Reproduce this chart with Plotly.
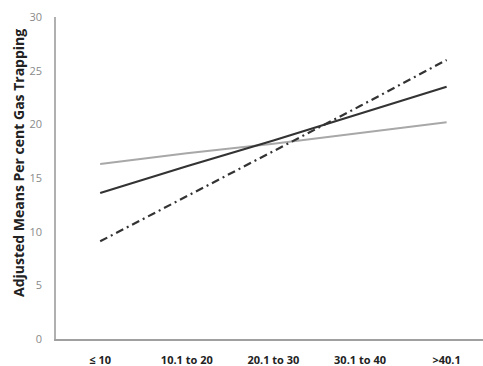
import plotly.graph_objects as go

categories = ["≤ 10", "10.1 to 20", "20.1 to 30", "30.1 to 40", ">40.1"]
solid_black = [13.6, 16.1, 18.5, 21.0, 23.5]
solid_gray = [16.3, 17.3, 18.2, 19.2, 20.2]
dashdot_black = [9.1, 13.3, 17.5, 21.7, 26.0]
y_ticks = [0, 5, 10, 15, 20, 25, 30]

xs = list(range(len(categories)))

fig = go.Figure()
fig.add_trace(go.Scatter(x=xs, y=solid_gray, mode="lines",
                         line=dict(color="#a8a8a8", width=2), showlegend=False))
fig.add_trace(go.Scatter(x=xs, y=solid_black, mode="lines",
                         line=dict(color="#333333", width=2.2), showlegend=False))
fig.add_trace(go.Scatter(x=xs, y=dashdot_black, mode="lines",
                         line=dict(color="#333333", width=2.2, dash="8px,4px,2px,4px"),
                         showlegend=False))

fig.update_layout(
    width=483, height=366,
    margin=dict(l=56, r=0, t=17, b=27),
    plot_bgcolor="white", paper_bgcolor="white",
    font=dict(family="Open Sans, Liberation Sans, sans-serif"),
    xaxis=dict(
        tickmode="array", tickvals=xs, ticktext=categories,
        range=[-0.51, 4.42], showgrid=False, zeroline=False,
        showline=True, linecolor="#a0a0a0", linewidth=2,
        ticks="", ticklabelstandoff=10, automargin=False,
        tickfont=dict(size=11, color="#222222", family="Open Sans, sans-serif", weight="bold"),
    ),
    yaxis=dict(
        range=[0, 30], tickvals=y_ticks, showgrid=False, zeroline=False,
        showline=True, linecolor="#b0b0b0", linewidth=1.5,
        ticks="", ticklabelstandoff=10, automargin=False,
        tickfont=dict(size=11, color="#8a8a8a"),
    ),
    annotations=[dict(
        text="<b>Adjusted Means Per cent Gas Trapping</b>",
        xref="paper", yref="paper", x=-0.088, y=0.548,
        xanchor="center", yanchor="middle", textangle=-90, showarrow=False,
        font=dict(size=14, color="#222222"),
    )],
)

fig.write_html("out.html", config={"displayModeBar": False},
               post_script="document.body.style.margin='0';")
